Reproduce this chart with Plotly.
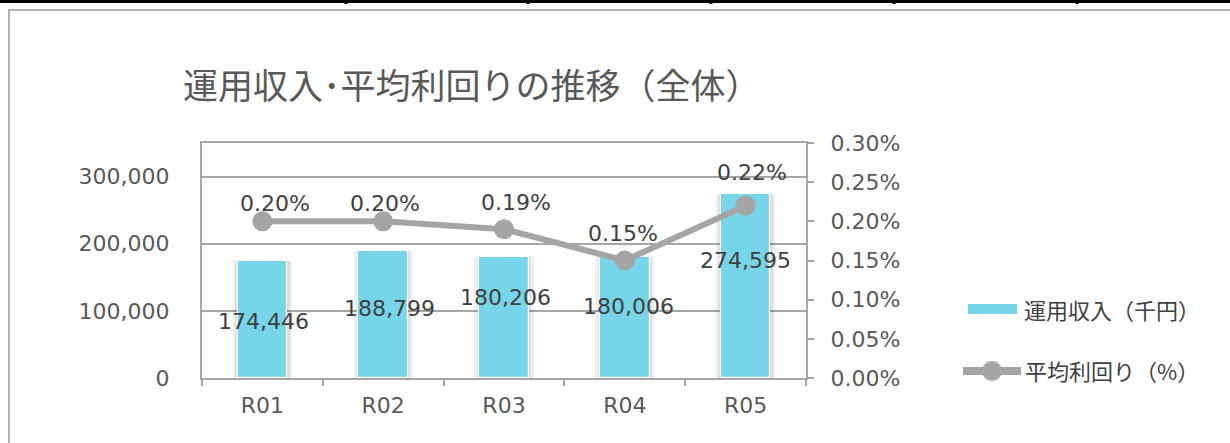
import plotly.graph_objects as go

# ---------------- data ----------------
categories = ["R01", "R02", "R03", "R04", "R05"]
income = [174446, 188799, 180206, 180006, 274595]          # 運用収入（千円）
avg_yield = [0.20, 0.20, 0.19, 0.15, 0.22]                  # 平均利回り（%）
left_ticks = [0, 100000, 200000, 300000]
right_ticks = [0.00, 0.05, 0.10, 0.15, 0.20, 0.25, 0.30]
title_text = "運用収入･平均利回りの推移（全体）"
legend_names = ["運用収入（千円）", "平均利回り（%）"]

# ---------------- style ----------------
W, H = 1230, 443
ML, MR, MT, MB = 202, 424, 143, 65
PW, PH = W - ML - MR, H - MT - MB
BAR_COLOR = "#76D5E9"
LINE_COLOR = "#A5A5A5"
AXIS_COLOR = "#A6A6A6"
TICK_FONT = dict(family="DejaVu Sans", size=22, color="#595959")
LABEL_FONT = dict(family="DejaVu Sans", size=22, color="#404040")
JP_FONT = "Noto Sans CJK JP"
bar_label_shift = [(1, -61), (6, -57), (1, -40), (4, -49), (0, -67)]
line_label_shift = [(13, 18), (2, 18), (12, 27), (-2, 27), (6, 33)]


def px_x(px):
    return (px - ML) / PW


def px_y(py):
    return (H - MB - py) / PH


fig = go.Figure()

# bar shadow
fig.add_trace(go.Bar(x=categories, y=income, width=0.49, marker=dict(color="rgba(0,0,0,0.06)", line=dict(width=0)),
                     showlegend=False, hoverinfo="skip"))
fig.add_trace(go.Bar(x=categories, y=income, width=0.45, marker=dict(color="rgba(0,0,0,0.07)", line=dict(width=0)),
                     showlegend=False, hoverinfo="skip"))
fig.add_trace(go.Bar(x=categories, y=income, width=0.41, name=legend_names[0],
                     marker=dict(color=BAR_COLOR, line=dict(color="white", width=1.2)), showlegend=False))
fig.add_trace(go.Scatter(x=categories, y=avg_yield, yaxis="y2", mode="lines+markers", name=legend_names[1],
                         line=dict(color=LINE_COLOR, width=6), marker=dict(size=20, color=LINE_COLOR),
                         showlegend=False))

annotations = []
for c, v, (dx, dy) in zip(categories, income, bar_label_shift):
    annotations.append(dict(x=c, y=v, xref="x", yref="y", text=f"{v:,}", showarrow=False,
                            xshift=dx, yshift=dy, font=LABEL_FONT))
for c, v, (dx, dy) in zip(categories, avg_yield, line_label_shift):
    annotations.append(dict(x=c, y=v, xref="x", yref="y2", text=f"{v:.2f}%", showarrow=False,
                            xshift=dx, yshift=dy, font=LABEL_FONT))

# manual legend
annotations.append(dict(x=px_x(1022), y=px_y(309), xref="paper", yref="paper", xanchor="left", yanchor="middle",
                        text=legend_names[0], showarrow=False,
                        font=dict(family=JP_FONT, size=22, color="#404040")))
annotations.append(dict(x=px_x(1023), y=px_y(370), xref="paper", yref="paper", xanchor="left", yanchor="middle",
                        text=legend_names[1], showarrow=False,
                        font=dict(family=JP_FONT, size=22, color="#404040")))

shapes = [
    # chart border
    dict(type="rect", xref="paper", yref="paper", x0=px_x(9), x1=px_x(1240), y0=px_y(460), y1=px_y(10),
         line=dict(color="#B3B3B3", width=2), fillcolor="rgba(0,0,0,0)", layer="below"),
    # top black rule
    dict(type="line", xref="paper", yref="paper", x0=px_x(0), x1=px_x(1230), y0=px_y(1.5), y1=px_y(1.5),
         line=dict(color="black", width=3)),
    # legend symbols
    dict(type="rect", xref="paper", yref="paper", x0=px_x(968), x1=px_x(1017), y0=px_y(314), y1=px_y(304),
         line=dict(width=0), fillcolor=BAR_COLOR),
    dict(type="line", xref="paper", yref="paper", x0=px_x(963), x1=px_x(1021), y0=px_y(371), y1=px_y(371),
         line=dict(color=LINE_COLOR, width=8)),
    dict(type="circle", xref="paper", yref="paper", x0=px_x(982), x1=px_x(1002), y0=px_y(381), y1=px_y(361),
         line=dict(width=0), fillcolor=LINE_COLOR),
]
for tx in [346, 528, 711, 894, 1077]:
    shapes.append(dict(type="line", xref="paper", yref="paper", x0=px_x(tx), x1=px_x(tx), y0=px_y(0), y1=px_y(4),
                       line=dict(color="black", width=3)))

fig.update_layout(
    width=W, height=H,
    margin=dict(l=ML, r=MR, t=MT, b=MB, pad=0),
    paper_bgcolor="white", plot_bgcolor="white",
    barmode="overlay", bargap=0,
    title=dict(text=title_text, xref="container", yref="container", x=183 / W, xanchor="left",
               y=1 - 87 / H, yanchor="middle", font=dict(family=JP_FONT, size=35, color="#595959")),
    xaxis=dict(type="category", categoryorder="array", categoryarray=categories, range=[-0.5, 4.5],
               showline=True, linecolor=AXIS_COLOR, linewidth=2, mirror=True,
               ticks="outside", ticklen=6, tickwidth=2, tickcolor=AXIS_COLOR, tickson="boundaries",
               showgrid=False, tickfont=TICK_FONT, ticklabelstandoff=7),
    yaxis=dict(range=[0, 350000], tickvals=left_ticks, ticktext=[f"{t:,}" for t in left_ticks],
               showline=True, linecolor=AXIS_COLOR, linewidth=2, showgrid=True, gridcolor=AXIS_COLOR,
               gridwidth=1.5, zeroline=False, ticks="", tickfont=TICK_FONT, ticklabelstandoff=26),
    yaxis2=dict(range=[0, 0.30], overlaying="y", side="right", tickvals=right_ticks,
                ticktext=[f"{t:.2f}%" for t in right_ticks], showline=True, linecolor=AXIS_COLOR, linewidth=2,
                showgrid=False, zeroline=False, ticks="outside", ticklen=6, tickwidth=2, tickcolor=AXIS_COLOR,
                tickfont=TICK_FONT, ticklabelstandoff=12),
    annotations=annotations,
    shapes=shapes,
    showlegend=False,
)

fig.write_html("out.html", config={"displayModeBar": False},
               post_script="document.body.style.margin='0';document.body.style.overflow='hidden';")
